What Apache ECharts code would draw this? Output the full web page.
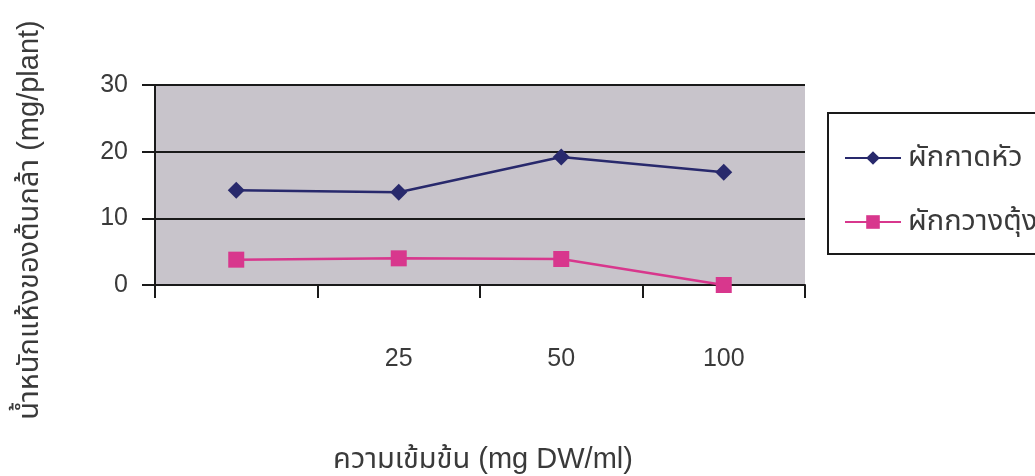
<!DOCTYPE html>
<html>
<head>
<meta charset="utf-8">
<script src="https://cdn.jsdelivr.net/npm/echarts@6/dist/echarts.min.js"></script>
<style>
  html, body { margin: 0; padding: 0; background: #ffffff; }
  #chart { width: 1035px; height: 476px; }
</style>
</head>
<body>
<div id="chart"></div>
<script>
// Concentration categories (first one carries no label)
const categories = ['', '25', '50', '100'];
// Dry weight of seedlings (mg/plant)
const radishValues = [14.2, 13.9, 19.2, 16.9];
const cabbageValues = [3.8, 4.0, 3.9, 0];
const seriesNames = ['ผักกาดหัว', 'ผักกวางตุ้ง'];
const yTicks = { min: 0, max: 30, interval: 10 };
const xTitle = 'ความเข้มข้น (mg DW/ml)';
const yTitle = 'น้ำหนักแห้งของต้นกล้า (mg/plant)';

const FONT = '"Liberation Sans", Arial, "Noto Sans Thai", "Noto Sans", sans-serif';
const TEXT = '#3a3a3a';
const AXIS = '#1a1a1a';

const chart = echarts.init(document.getElementById('chart'));
chart.setOption({
  animation: false,
  textStyle: { fontFamily: FONT },
  grid: {
    left: 155, right: 230, top: 85, bottom: 191,
    show: true, backgroundColor: '#c8c4cb', borderWidth: 0
  },
  xAxis: {
    type: 'category',
    data: categories,
    boundaryGap: true,
    axisLine: { lineStyle: { color: AXIS, width: 2 } },
    axisTick: { show: true, length: 13, lineStyle: { color: AXIS, width: 2 } },
    axisLabel: { margin: 62, fontSize: 25, color: TEXT, fontFamily: FONT },
    splitLine: { show: false }
  },
  yAxis: {
    type: 'value',
    min: yTicks.min, max: yTicks.max, interval: yTicks.interval,
    axisLine: { show: true, lineStyle: { color: AXIS, width: 2 } },
    axisTick: { show: true, length: 13, lineStyle: { color: AXIS, width: 2 } },
    axisLabel: { margin: 27, fontSize: 25, color: TEXT, fontFamily: FONT },
    splitLine: { show: true, lineStyle: { color: AXIS, width: 2 } }
  },
  legend: {
    orient: 'vertical',
    left: 839, top: 138,
    itemWidth: 56, itemHeight: 17, itemGap: 34,
    textStyle: { fontSize: 29, lineHeight: 30, color: TEXT, fontFamily: FONT, padding: [0, 0, 0, 2] },
    data: seriesNames
  },
  graphic: [
    {
      type: 'rect',
      shape: { x: 828, y: 113, width: 220, height: 141 },
      style: { fill: 'none', stroke: AXIS, lineWidth: 2 }
    },
    {
      type: 'text',
      x: 483, y: 460,
      style: { text: xTitle, fontSize: 29, fill: TEXT, fontFamily: FONT, textAlign: 'center', textVerticalAlign: 'middle' }
    },
    {
      type: 'text',
      x: 30, y: 220,
      rotation: Math.PI / 2,
      style: { text: yTitle, fontSize: 29, fill: TEXT, fontFamily: FONT, textAlign: 'center', textVerticalAlign: 'middle' }
    }
  ],
  series: [
    {
      name: seriesNames[0],
      type: 'line',
      data: radishValues,
      symbol: 'diamond',
      symbolSize: 17,
      itemStyle: { color: '#28296c' },
      lineStyle: { color: '#28296c', width: 2.5 }
    },
    {
      name: seriesNames[1],
      type: 'line',
      data: cabbageValues,
      symbol: 'rect',
      symbolSize: 16,
      itemStyle: { color: '#d8378d' },
      lineStyle: { color: '#d8378d', width: 2.5 }
    }
  ]
});
</script>
</body>
</html>
